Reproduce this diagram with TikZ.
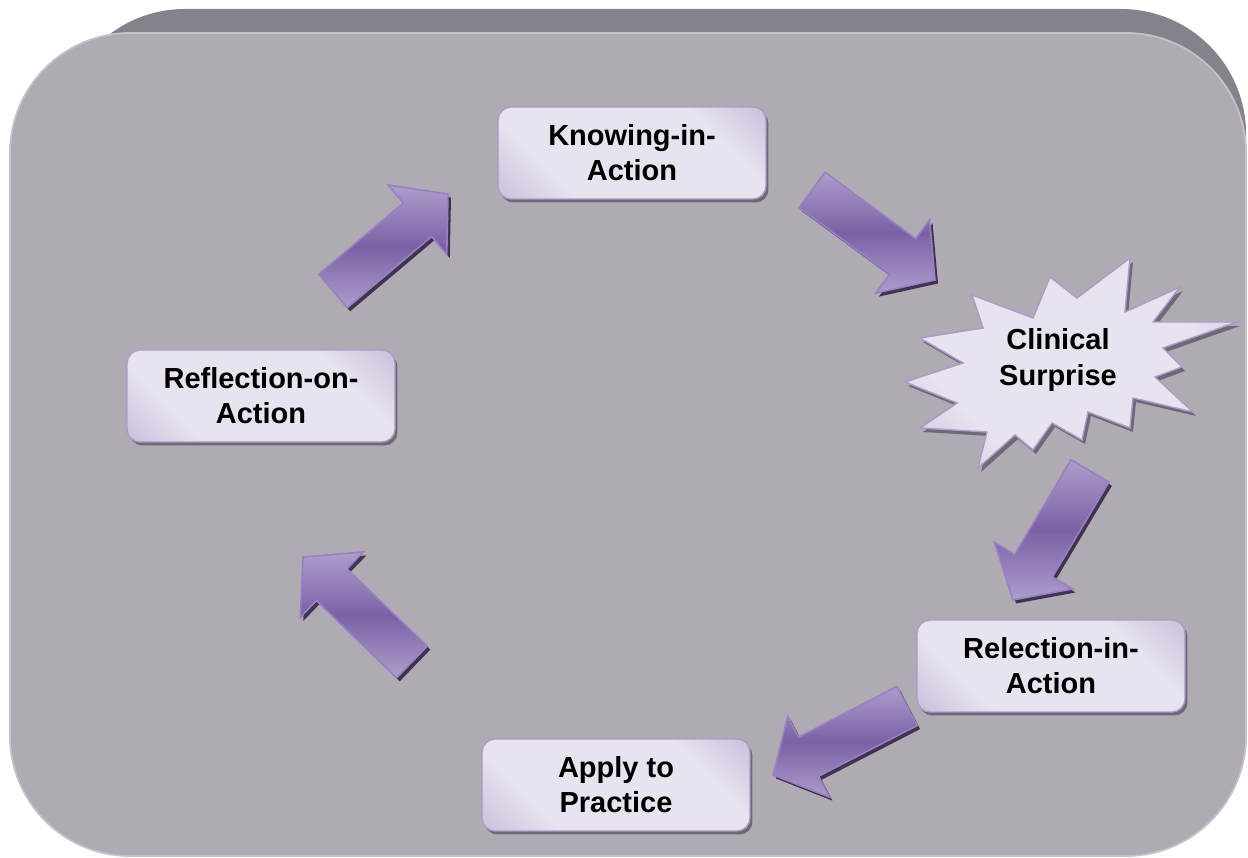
\documentclass[tikz,border=0pt]{standalone}
\usepackage{fontspec}
\setmainfont{Liberation Sans}
\usetikzlibrary{calc,shadows}

\definecolor{facegray}{HTML}{B0ABB3}
\definecolor{bandgray}{HTML}{86818A}
\definecolor{rimgray}{HTML}{C6C1CB}
\definecolor{boxlight}{HTML}{E8E3EF}
\definecolor{boxdark}{HTML}{AE9DC8}
\definecolor{boxline}{HTML}{AA9BC9}
\definecolor{boxshadow}{HTML}{6E6878}
\definecolor{arrowlight}{HTML}{AD9DCD}
\definecolor{arrowdark}{HTML}{7A61A5}
\definecolor{arrowline}{HTML}{9880C2}
\definecolor{arrowshadow}{HTML}{3F3350}

\pgfdeclarehorizontalshading{lavender}{100bp}{color(0bp)=(boxdark); color(30bp)=(boxlight); color(70bp)=(boxlight); color(100bp)=(boxdark)}

\tikzset{
  stage/.style={rectangle, rounded corners=0.26cm, minimum width=5.36cm,
    minimum height=1.84cm, align=center, draw=boxline, line width=0.8pt,
    shading=lavender, shading angle=45,
    font=\fontsize{16.5}{20}\selectfont\bfseries,
    drop shadow={opacity=1, fill=boxshadow, shadow xshift=0.05cm, shadow yshift=-0.07cm}},
  label text/.style={align=center, font=\fontsize{16.5}{20}\selectfont\bfseries}
}

% outline of one block arrow, from tail (#1) to tip (#2)
\newcommand{\arrowpath}[2]{($(#1)!0.44cm!90:(#2)$) -- ($(neck)!0.44cm!90:(#2)$)
  -- ($(neck)!0.91cm!90:(#2)$) -- (#2) -- ($(neck)!0.91cm!-90:(#2)$)
  -- ($(neck)!0.44cm!-90:(#2)$) -- ($(#1)!0.44cm!-90:(#2)$) -- cycle}
\newcommand{\blockarrow}[2]{%
  \coordinate (neck) at ($(#2)!0.8cm!(#1)$);
  \fill[arrowshadow, transform canvas={xshift=0.06cm, yshift=-0.07cm}] \arrowpath{#1}{#2};
  \shade[top color=arrowlight, bottom color=arrowlight, middle color=arrowdark,
    draw=arrowline, line width=0.9pt] \arrowpath{#1}{#2};
}
% outline of the starburst, around its centre
\newcommand{\burstpath}{(72,-102) -- (67,-48) -- (122,-73) -- (95,-38) -- (179,-38)
  -- (105,-12) -- (124,7) -- (97,17) -- (135,52) -- (75,38) -- (72,68) -- (30,52)
  -- (24,80) -- (-6,63) -- (-25,90) -- (-43,75) -- (-80,108) -- (-71,72) -- (-138,68)
  -- (-101,43) -- (-153,22) -- (-95,3) -- (-138,-22) -- (-75,-32) -- (-86,-65)
  -- (-25,-42) -- (-8,-83) -- (19,-62) -- cycle}

\begin{document}
\begin{tikzpicture}[x=0.02cm, y=-0.02cm]
  \useasboundingbox (0,0) rectangle (1248,858);
  % background panel
  \fill[bandgray, rounded corners=2.5cm] (60,9) rectangle (1246,700);
  \fill[facegray, draw=rimgray, line width=1pt, rounded corners=2.4cm] (10,33) rectangle (1246,856);

  % stages
  \node[stage] (knowing) at (632,153) {Knowing-in-\\Action};
  \node[stage] (reflecton) at (261,396) {Reflection-on-\\Action};
  \node[stage] (reflectin) at (1051,666) {Relection-in-\\Action};
  \node[stage] (apply) at (616,785) {Apply to\\Practice};

  % starburst
  \coordinate (burst) at (1058,360);
  \begin{scope}[shift={(burst)}]
    \fill[boxshadow, shift={(3,4)}] \burstpath;
    \path[draw=boxline, line width=0.8pt, shading=lavender, shading angle=45] \burstpath;
  \end{scope}
  \node[label text] (surprise) at (burst) {Clinical\\Surprise};

  % arrows between the stages
  \coordinate (a1s) at (333,291); \coordinate (a1e) at (448,194);
  \coordinate (a2s) at (812,190); \coordinate (a2e) at (935,280);
  \coordinate (a3s) at (1090,471); \coordinate (a3e) at (1013,600);
  \coordinate (a4s) at (907,706); \coordinate (a4e) at (773,775);
  \coordinate (a5s) at (412,662); \coordinate (a5e) at (303,557);
  \foreach \s/\e in {a1s/a1e, a2s/a2e, a3s/a3e, a4s/a4e, a5s/a5e} {
    \blockarrow{\s}{\e}
  }
\end{tikzpicture}
\end{document}
